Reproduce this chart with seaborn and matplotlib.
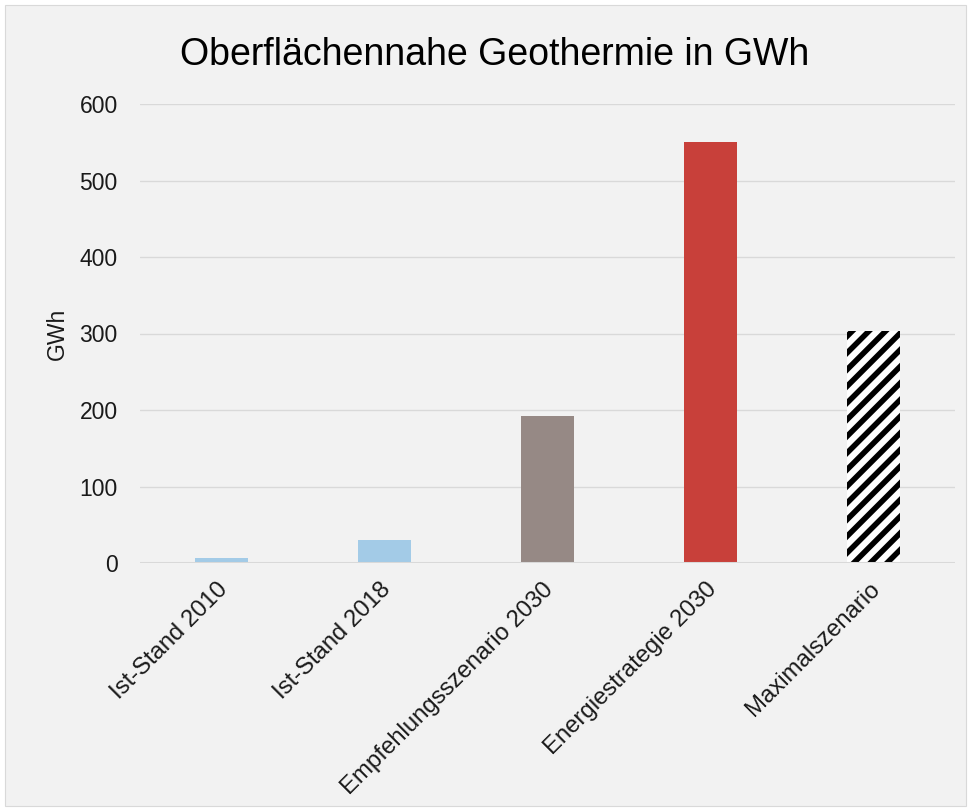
import matplotlib
matplotlib.use("Agg")
import matplotlib.pyplot as plt
import matplotlib.transforms as mtransforms
import pandas as pd
import seaborn as sns
from matplotlib.patches import Rectangle

categories = [
    "Ist-Stand 2010",
    "Ist-Stand 2018",
    "Empfehlungsszenario 2030",
    "Energiestrategie 2030",
    "Maximalszenario",
]
values_gwh = [7, 30, 192, 550, 303]
bar_colors = ["#a3cbe7", "#a3cbe7", "#968985", "#c8403a", "#ffffff"]
y_ticks = [0, 100, 200, 300, 400, 500, 600]

sns.set_theme(style="white")
plt.rcParams["font.family"] = ["Liberation Sans", "DejaVu Sans"]
plt.rcParams["hatch.linewidth"] = 4.0
plt.rcParams["hatch.color"] = "black"

df = pd.DataFrame({"kategorie": categories, "gwh": values_gwh})

fig = plt.figure(figsize=(9.7, 8.11), dpi=100)
fig.patch.set_facecolor("white")
fig.patches.append(
    Rectangle((5 / 970, 5 / 811), 961 / 970, 801 / 811, transform=fig.transFigure,
              facecolor="#f2f2f2", edgecolor="#d9d9d9", linewidth=0.8, zorder=-10)
)

ax = fig.add_axes([140 / 970, 1 - 563 / 811, 815 / 970, 459 / 811])
ax.set_facecolor("none")

sns.barplot(data=df, x="kategorie", y="gwh", hue="kategorie", palette=bar_colors,
            legend=False, width=0.32, saturation=1, ax=ax, zorder=3)

# hatched "Maximalszenario" bar
for i, patch in enumerate(ax.patches):
    patch.set_linewidth(0)
    if i == len(categories) - 1:
        patch.set_hatch("//")
        patch.set_edgecolor("black")

ax.set_ylim(0, 600)
ax.set_xlim(-0.5, 4.5)
ax.set_yticks(y_ticks)
ax.yaxis.grid(True, color="#d9d9d9", linewidth=1, zorder=0)
ax.axhline(0, color="#d9d9d9", linewidth=2.2, zorder=4)
for side in ["top", "right", "left", "bottom"]:
    ax.spines[side].set_visible(False)

ax.tick_params(axis="y", length=0, labelsize=16.5, pad=16, labelcolor="#1a1a1a")
ax.tick_params(axis="x", length=0, labelsize=17.2, pad=11, labelcolor="#1a1a1a")
shift = mtransforms.ScaledTranslation(-5 / 100, 0, fig.dpi_scale_trans)
for lbl in ax.get_xticklabels():
    lbl.set_rotation(45)
    lbl.set_ha("right")
    lbl.set_rotation_mode("anchor")
    lbl.set_transform(lbl.get_transform() + shift)

ax.set_xlabel("")
ax.set_ylabel("GWh", fontsize=16.5, color="#1a1a1a", labelpad=8)

fig.text(495 / 970, 1 - 55 / 811, "Oberflächennahe Geothermie in GWh", ha="center",
         va="center", fontsize=27, color="black")

fig.savefig("out.png", dpi=100)
